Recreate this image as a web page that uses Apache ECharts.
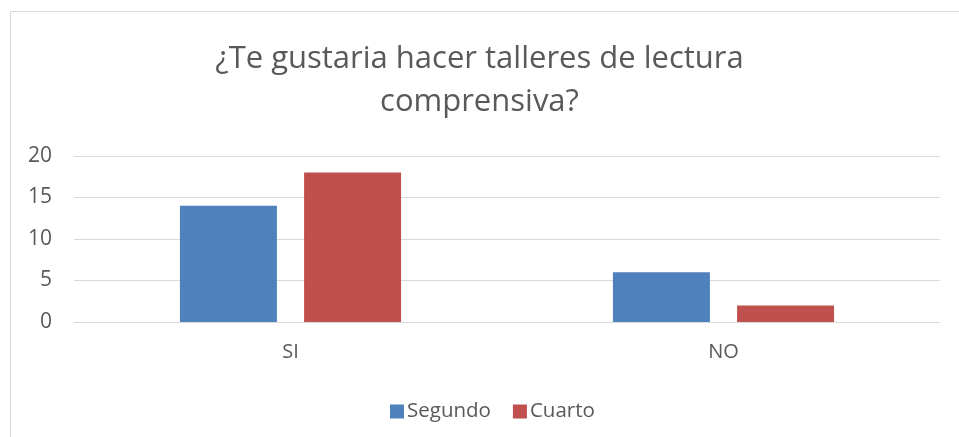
<!DOCTYPE html>
<html>
<head>
<meta charset="utf-8">
<script src="https://cdn.jsdelivr.net/npm/echarts@6/dist/echarts.min.js"></script>
<style>
  html, body { margin: 0; padding: 0; background: #fff; }
  #chart { width: 959px; height: 437px; }
</style>
</head>
<body>
<div id="chart"></div>
<script>
// datos
const categorias = ['SI', 'NO'];
const segundo = [14, 6];
const cuarto = [18, 2];
const ticksY = { min: 0, max: 20, interval: 5 };

const fuente = '"Open Sans", "Noto Sans", sans-serif';
const gris = '#595959';

const myChart = echarts.init(document.getElementById('chart'));

let option = {
	animation: false,
	textStyle: { fontFamily: fuente },
	title: {
		text: '¿Te gustaria hacer talleres de lectura\ncomprensiva?',
		left: 'center',
		top: 33,
		textStyle: { fontFamily: fuente, fontSize: 31, fontWeight: 'normal', color: gris, lineHeight: 43 }
	},
	graphic: [{
		type: 'rect',
		shape: { x: 10.5, y: 11.5, width: 1000, height: 1000 },
		style: { fill: 'none', stroke: '#d9d9d9', lineWidth: 1 },
		silent: true
	}],
	legend: {
		top: 396,
		left: 385,
		itemWidth: 14,
		itemHeight: 14,
		itemGap: 22,
		icon: 'rect',
		textStyle: { fontFamily: fuente, fontSize: 20.5, color: gris, padding: [0, 0, 0, -2] },
		data: ['Segundo', 'Cuarto']
	},
	grid: { left: 74, right: 19, top: 156, bottom: 115, containLabel: false },
	xAxis: {
		type: 'category',
		data: categorias,
		axisLine: { lineStyle: { color: '#d9d9d9' } },
		axisTick: { show: false },
		axisLabel: { fontFamily: fuente, fontSize: 20, color: gris, margin: 20 }
	},
	yAxis: {
		type: 'value',
		min: ticksY.min,
		max: ticksY.max,
		interval: ticksY.interval,
		axisLine: { show: false },
		axisTick: { show: false },
		splitLine: { lineStyle: { color: '#d9d9d9' } },
		axisLabel: { fontFamily: fuente, fontSize: 21, color: gris, margin: 22 }
	},
	series: [
		{ name: 'Segundo', type: 'bar', data: segundo, barWidth: 97, barGap: '28%', itemStyle: { color: '#4f81bd' } },
		{ name: 'Cuarto', type: 'bar', data: cuarto, barWidth: 97, barGap: '28%', itemStyle: { color: '#c0504d' } }
	]
};

myChart.setOption(option);
</script>
</body>
</html>
